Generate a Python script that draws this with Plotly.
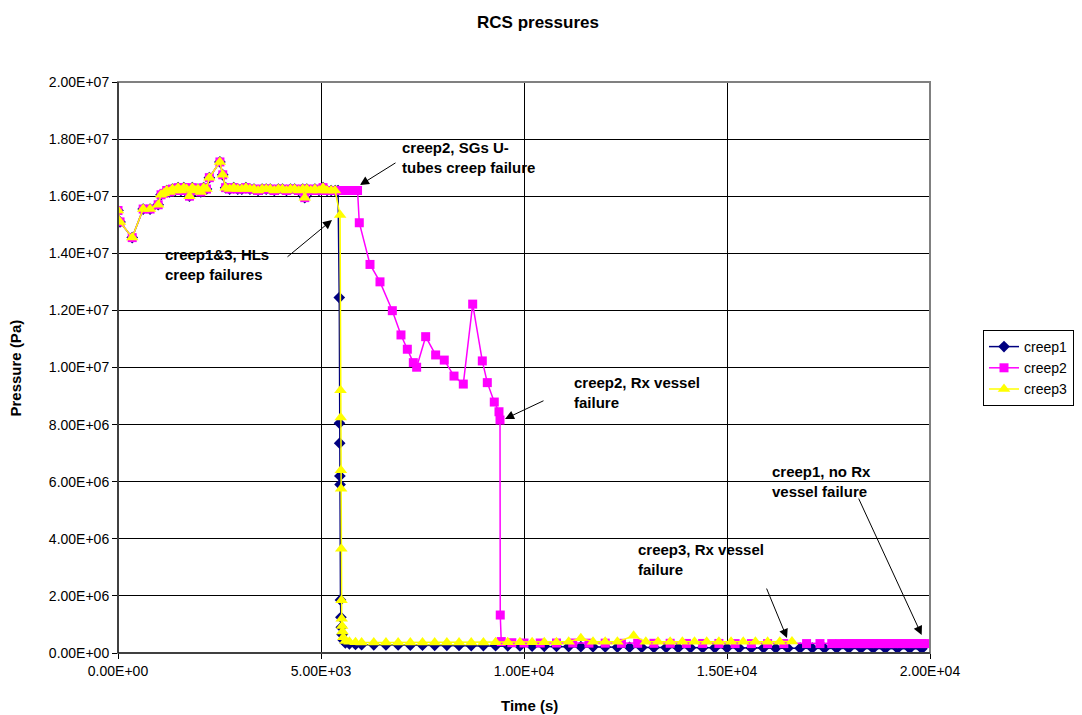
import plotly.graph_objects as go

# ---- shared early phase (all three cases identical before failures) ----
t_early = [0, 50, 350, 620, 790, 990, 1060, 1130, 1200, 1270, 1340, 1410, 1480, 1550,
           1620, 1690, 1760, 1830, 1900, 1970, 2040, 2110, 2180, 2250, 2510, 2580, 2650,
           2750, 2850, 2950, 3050, 3150, 3250, 3350, 3450, 3550, 3650, 3750, 3850, 3950,
           4050, 4150, 4250, 4350, 4450, 4550, 4600, 4650, 4750, 4850, 4950, 5050, 5150, 5250]
p_early = [1.55e7, 1.51e7, 1.455e7, 1.555e7, 1.555e7, 1.57e7, 1.605e7, 1.61e7, 1.62e7, 1.615e7,
           1.625e7, 1.62e7, 1.63e7, 1.62e7, 1.63e7, 1.625e7, 1.60e7, 1.63e7, 1.62e7, 1.625e7,
           1.615e7, 1.63e7, 1.625e7, 1.665e7, 1.72e7, 1.675e7, 1.63e7, 1.625e7, 1.63e7, 1.625e7,
           1.625e7, 1.63e7, 1.625e7, 1.625e7, 1.62e7, 1.625e7, 1.625e7, 1.625e7, 1.62e7, 1.625e7,
           1.625e7, 1.62e7, 1.625e7, 1.625e7, 1.62e7, 1.625e7, 1.595e7, 1.625e7, 1.62e7, 1.625e7,
           1.62e7, 1.63e7, 1.62e7, 1.62e7]

# ---- creep1 ----
t1_late = [5350, 5420, 5450, 5455, 5460, 5465, 5470, 5480, 5490, 5500, 5520, 5550,
           5600, 5700, 5850, 6000, 6300, 6600, 6900, 7200, 7500, 7800, 8100, 8400, 8700,
           9000, 9300, 9600, 9900, 10200, 10500, 10800, 11100, 11400, 11700, 12000, 12300,
           12600, 12900, 13200, 13500, 13800, 14100, 14400, 14700, 15000, 15300, 15600,
           15900, 16200, 16500, 16800, 17100, 17400, 17700, 18000, 18300, 18600, 18900,
           19200, 19500, 19800]
p1_late = [1.62e7, 1.62e7, 1.245e7, 8.05e6, 7.35e6, 6.2e6, 5.9e6, 1.86e6, 1.25e6, 9.0e5, 6.5e5, 4.5e5,
           3.5e5, 3.2e5, 3.0e5, 2.9e5, 2.85e5, 2.8e5, 2.8e5, 2.75e5, 2.75e5, 2.7e5, 2.7e5, 2.65e5, 2.6e5,
           2.6e5, 2.55e5, 2.5e5, 2.45e5, 2.4e5, 2.35e5, 2.3e5, 2.25e5, 2.2e5, 2.15e5, 2.1e5, 2.05e5,
           2.0e5, 1.95e5, 1.9e5, 1.9e5, 1.85e5, 1.85e5, 1.8e5, 1.8e5, 1.8e5, 1.75e5, 1.75e5,
           1.75e5, 1.7e5, 1.7e5, 1.7e5, 1.7e5, 1.65e5, 1.65e5, 1.65e5, 1.6e5, 1.6e5, 1.6e5,
           1.6e5, 1.55e5, 1.5e5]

# ---- creep2 ----
t2_late = [5300, 5350, 5400, 5450, 5500, 5550, 5600, 5650, 5700, 5750, 5800, 5850, 5900,
           5943, 6207, 6453, 6757, 6970, 7126, 7274, 7356, 7578, 7824, 8036, 8276, 8505,
           8736, 8973, 9096, 9268, 9384, 9409, 9415, 9440, 9700, 10000, 10400, 10800, 11200,
           11600, 12000, 12400, 12800, 13200, 13600, 14000, 14400, 14800, 15200, 15600,
           16000, 16400, 16960, 17290, 17580, 17780, 17900, 18000, 18100, 18200, 18300,
           18400, 18500, 18600, 18700, 18800, 18900, 19000, 19100, 19200, 19300, 19400,
           19500, 19600, 19700, 19800, 19920]
p2_late = [1.62e7, 1.62e7, 1.62e7, 1.62e7, 1.62e7, 1.62e7, 1.62e7, 1.62e7, 1.62e7, 1.62e7,
           1.62e7, 1.62e7, 1.62e7,
           1.507e7, 1.361e7, 1.30e7, 1.199e7, 1.114e7, 1.064e7, 1.017e7, 1.001e7, 1.108e7,
           1.044e7, 1.026e7, 0.970e7, 0.942e7, 1.222e7, 1.023e7, 0.947e7, 0.879e7, 0.845e7,
           0.816e7, 1.33e6, 4.0e5, 3.6e5, 3.5e5, 3.5e5, 3.5e5, 3.5e5, 3.45e5, 3.45e5, 3.4e5,
           3.4e5, 3.4e5, 3.4e5, 3.35e5, 3.35e5, 3.35e5, 3.3e5, 3.3e5, 3.3e5, 3.3e5, 3.3e5,
           3.3e5, 3.3e5, 3.3e5, 3.3e5, 3.3e5, 3.3e5, 3.3e5, 3.3e5, 3.3e5, 3.3e5, 3.3e5,
           3.3e5, 3.3e5, 3.3e5, 3.3e5, 3.3e5, 3.3e5, 3.3e5, 3.3e5, 3.3e5, 3.3e5, 3.3e5,
           3.3e5, 3.3e5]

# ---- creep3 ----
t3_late = [5345, 5470, 5480, 5485, 5490, 5495, 5500, 5505, 5510, 5520, 5530, 5550,
           5600, 5700, 5850, 6000, 6300, 6600, 6900, 7200, 7500, 7800, 8100, 8400, 8700,
           9000, 9300, 9600, 9900, 10200, 10500, 10800, 11100, 11400, 11700, 12000, 12300,
           12700, 13000, 13300, 13600, 13900, 14200, 14500, 14800, 15100, 15400, 15700,
           16000, 16300, 16600]
p3_late = [1.62e7, 1.534e7, 9.2e6, 8.25e6, 6.4e6, 5.75e6, 3.65e6, 1.85e6, 1.2e6, 9.5e5, 7.5e5, 5.5e5,
           4.2e5, 3.9e5, 3.8e5, 3.7e5, 3.7e5, 3.7e5, 3.7e5, 3.7e5, 3.7e5, 3.7e5, 3.7e5, 3.7e5, 3.7e5,
           3.7e5, 3.75e5, 3.8e5, 3.8e5, 3.8e5, 3.8e5, 3.8e5, 3.9e5, 5.2e5, 3.9e5, 3.9e5, 3.9e5,
           6.0e5, 3.9e5, 3.9e5, 3.9e5, 3.9e5, 3.9e5, 3.9e5, 3.9e5, 3.9e5, 3.9e5, 3.9e5,
           3.9e5, 3.9e5, 4.0e5]

x_ticks = [0, 5000, 10000, 15000, 20000]
y_ticks = [0, 2e6, 4e6, 6e6, 8e6, 1e7, 1.2e7, 1.4e7, 1.6e7, 1.8e7, 2e7]

FONT = "Liberation Sans, Arial, sans-serif"

fig = go.Figure()
series = [
    ("creep1", t_early + t1_late, p_early + p1_late, "#000080", "diamond", 9),
    ("creep2", t_early + t2_late, p_early + p2_late, "#FF00FF", "square", 9),
    ("creep3", t_early + t3_late, p_early + p3_late, "#FFFF00", "triangle-up", 11),
]
for name, xs, ys, col, sym, sz in series:
    fig.add_trace(go.Scatter(
        x=xs, y=ys, name=name, mode="lines+markers",
        line=dict(color=col, width=1.5),
        marker=dict(color=col, symbol=sym, size=sz, line=dict(width=0)),
    ))

# annotation texts
texts = [
    ("creep2, SGs U-<br>tubes creep failure", 6946, 1.737e7),
    ("creep1&3, HLs<br>creep failures", 1108, 1.3625e7),
    ("creep2, Rx vessel<br>failure", 11182, 9.14e6),
    ("creep1, no Rx<br>vessel failure", 16059, 5.99e6),
    ("creep3, Rx vessel<br>failure", 12758, 3.29e6),
]
for txt, x, y in texts:
    fig.add_annotation(x=x, y=y, xref="x", yref="y", text="<b>" + txt + "</b>",
                       showarrow=False, xanchor="left", yanchor="middle", align="left",
                       font=dict(family=FONT, size=15, color="black"))

# arrows (head, tail)
arrows = [
    ((5960, 1.639e7), (6872, 1.720e7)),
    ((5271, 1.5166e7), (4138, 1.3835e7)),
    ((9532, 8.2e6), (10517, 8.86e6)),
    ((19795, 6.3e5), (18226, 5.46e6)),
    ((16478, 5.25e5), (15960, 2.31e6)),
]
for (hx, hy), (tx, ty) in arrows:
    fig.add_annotation(x=hx, y=hy, ax=tx, ay=ty, xref="x", yref="y", axref="x", ayref="y",
                       text="", showarrow=True, arrowhead=2, arrowsize=1.8, arrowwidth=1,
                       arrowcolor="black", standoff=0)

# axis titles
fig.add_annotation(x=0.5065, y=-42 / 571, xref="paper", yref="paper", text="<b>Time (s)</b>",
                   showarrow=False, xanchor="center", yanchor="top",
                   font=dict(family=FONT, size=15, color="black"))
fig.add_annotation(x=-103 / 812, y=0.5, xref="paper", yref="paper", text="<b>Pressure (Pa)</b>",
                   showarrow=False, xanchor="center", yanchor="middle", textangle=-90,
                   font=dict(family=FONT, size=15, color="black"))

fig.add_shape(type="rect", xref="paper", yref="paper", x0=0, y0=0, x1=1, y1=1,
              line=dict(color="#808080", width=2), layer="above")
fig.add_shape(type="line", xref="paper", yref="paper", x0=0, y0=0, x1=0, y1=1,
              line=dict(color="black", width=1), layer="above")
fig.add_shape(type="line", xref="paper", yref="paper", x0=0, y0=0, x1=1, y1=0,
              line=dict(color="black", width=1), layer="above")

# the page body adds an 8 px offset, so the figure is 8 px smaller and margins shifted
fig.update_layout(
    width=1074, height=707,
    margin=dict(l=110, r=152, t=74, b=62, autoexpand=False),
    paper_bgcolor="white", plot_bgcolor="white",
    font=dict(family=FONT, size=14, color="black"),
    title=dict(text="<b>RCS pressures</b>", x=(538 - 8) / 1074, xanchor="center",
               y=1 - 14 / 707, yanchor="middle",
               font=dict(family=FONT, size=17, color="black")),
    showlegend=True,
    legend=dict(x=(983 - 118) / 812, y=(653 - 330) / 571, xanchor="left", yanchor="top",
                bordercolor="black", borderwidth=1, bgcolor="white",
                font=dict(family=FONT, size=14), tracegroupgap=0, itemwidth=30),
    xaxis=dict(range=[0, 20000], tickvals=x_ticks,
               ticktext=[f"{v:.2E}" for v in x_ticks],
               showgrid=True, gridcolor="black", gridwidth=1,
               ticks="outside", ticklen=5, tickcolor="black",
               showline=False, zeroline=False, automargin=False,
               tickfont=dict(family=FONT, size=14)),
    yaxis=dict(range=[0, 2e7], tickvals=y_ticks,
               ticktext=[f"{v:.2E}" for v in y_ticks],
               showgrid=True, gridcolor="black", gridwidth=1,
               ticks="outside", ticklen=5, tickcolor="black",
               showline=False, zeroline=False, automargin=False,
               tickfont=dict(family=FONT, size=14)),
)

fig.write_html("out.html")
